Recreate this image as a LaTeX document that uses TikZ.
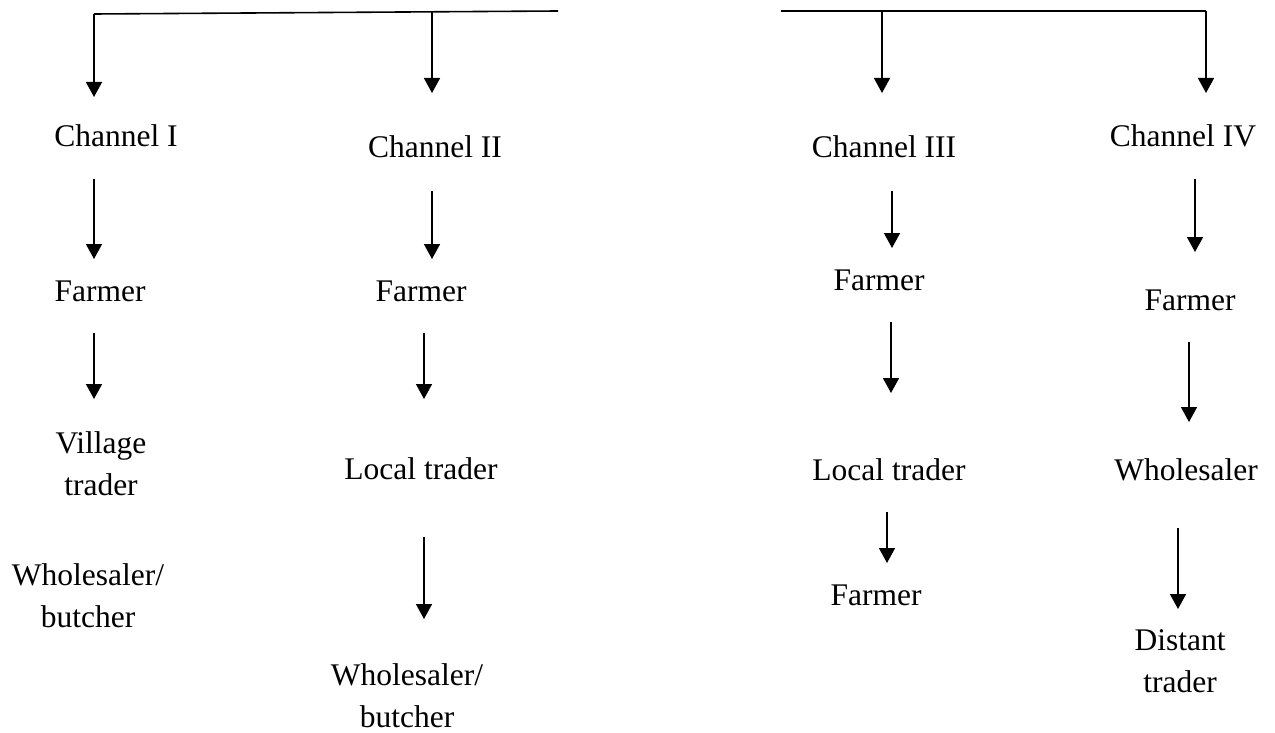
\documentclass[tikz,border=0pt]{standalone}
\usepackage{fontspec}
\setmainfont{Liberation Serif}
\usetikzlibrary{arrows.meta}
\newcommand\twoline[2]{\begin{tabular}[t]{@{}c@{}}#1\\#2\end{tabular}}
\begin{document}
\begin{tikzpicture}[x=1pt,y=-1pt,
  lbl/.style={anchor=base,inner sep=0pt,font=\fontsize{31.5}{42}\selectfont},
  conn/.style={line width=1.6pt},
  arr/.style={line width=1.6pt,-{Triangle[width=16pt,length=15pt]}}]
\useasboundingbox (0,0) rectangle (1275,733);
% top bars
\coordinate (L1a) at (94,14);
\coordinate (L1b) at (558,11);
\coordinate (L1m) at (432,12);
\coordinate (L2a) at (781,11);
\coordinate (L2m) at (882,11);
\coordinate (L2b) at (1206,11);
\draw[conn] (L1a) -- (L1b);
\draw[conn] (L2a) -- (L2b);
% labels
\node[lbl] (chI)   at (116,147) {Channel I};
\node[lbl] (chII)  at (435,158) {Channel II};
\node[lbl] (chIII) at (884,158) {Channel III};
\node[lbl] (chIV)  at (1183,147) {Channel IV};
\node[lbl] (fI)   at (100,301) {Farmer};
\node[lbl] (fII)  at (421,301) {Farmer};
\node[lbl] (fIII) at (879,290) {Farmer};
\node[lbl] (fIV)  at (1190,310) {Farmer};
\node[lbl] (vt)   at (101,453) {\twoline{Village}{trader}};
\node[lbl] (ltII) at (421,479) {Local trader};
\node[lbl] (ltIII) at (889,480) {Local trader};
\node[lbl] (wsIV) at (1186,480) {Wholesaler};
\node[lbl] (wbI)  at (88,585) {\twoline{Wholesaler/}{butcher}};
\node[lbl] (wbII) at (407,685) {\twoline{Wholesaler/}{butcher}};
\node[lbl] (fIIIb) at (876,605) {Farmer};
\node[lbl] (dt)   at (1180,650) {\twoline{Distant}{trader}};
% arrow end points
\coordinate (a1e) at (94,97);
\coordinate (a2e) at (432,93);
\coordinate (a3e) at (882,93);
\coordinate (a4e) at (1206,93);
\coordinate (b1s) at (94,179);   \coordinate (b1e) at (94,259);
\coordinate (b2s) at (432,191);  \coordinate (b2e) at (432,259);
\coordinate (b3s) at (892,191);  \coordinate (b3e) at (892,248);
\coordinate (b4s) at (1195,179); \coordinate (b4e) at (1195,252);
\coordinate (c1s) at (94,333);   \coordinate (c1e) at (94,399);
\coordinate (c2s) at (424,333);  \coordinate (c2e) at (424,399);
\coordinate (c3s) at (891,322);  \coordinate (c3e) at (891,393);
\coordinate (c4s) at (1189,342); \coordinate (c4e) at (1189,422);
\coordinate (d2s) at (424,537);  \coordinate (d2e) at (424,619);
\coordinate (d3s) at (887,512);  \coordinate (d3e) at (887,563);
\coordinate (d4s) at (1178,528); \coordinate (d4e) at (1178,609);
% arrows
\draw[arr] (L1a) -- (a1e);
\draw[arr] (L1m) -- (a2e);
\draw[arr] (L2m) -- (a3e);
\draw[arr] (L2b) -- (a4e);
\draw[arr] (b1s) -- (b1e);
\draw[arr] (b2s) -- (b2e);
\draw[arr] (b3s) -- (b3e);
\draw[arr] (b4s) -- (b4e);
\draw[arr] (c1s) -- (c1e);
\draw[arr] (c2s) -- (c2e);
\draw[arr] (c3s) -- (c3e);
\draw[arr] (c4s) -- (c4e);
\draw[arr] (d2s) -- (d2e);
\draw[arr] (d3s) -- (d3e);
\draw[arr] (d4s) -- (d4e);
\end{tikzpicture}
\end{document}
